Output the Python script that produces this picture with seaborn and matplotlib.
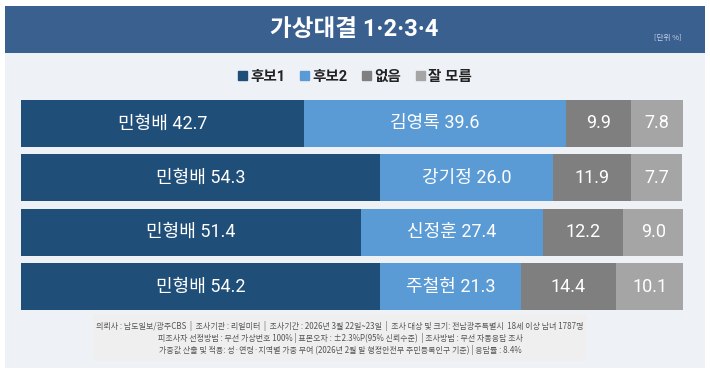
import matplotlib
matplotlib.use("Agg")
import matplotlib.pyplot as plt
import matplotlib.patches as mpatches
import seaborn as sns
import pandas as pd
import numpy as np

# ---- data ----
matchups = ["대결1", "대결2", "대결3", "대결4"]
cand1_names = ["민형배", "민형배", "민형배", "민형배"]
cand2_names = ["김영록", "강기정", "신정훈", "주철현"]
cand1_vals = [42.7, 54.3, 51.4, 54.2]
cand2_vals = [39.6, 26.0, 27.4, 21.3]
none_vals = [9.9, 11.9, 12.2, 14.4]
dunno_vals = [7.8, 7.7, 9.0, 10.1]
series_names = ["후보1", "후보2", "없음", "잘 모름"]
colors = ["#1f4e79", "#5b9bd5", "#7f7f7f", "#a5a5a5"]

title = "가상대결 1·2·3·4"
unit = "[단위 %]"
footnote = ("의뢰사 : 남도일보/광주CBS  |  조사기관 : 리얼미터  |  조사기간 : 2026년 3월 22일~23일  |  조사 대상 및 크기: 전남광주특별시  18세 이상 남녀 1787명\n"
            "피조사자 선정방법 : 무선 가상번호 100% | 표본오차 : ±2.3%P(95% 신뢰수준)  | 조사방법 : 무선 자동응답 조사\n"
            "가중값 산출 및 적용: 성·연령·지역별 가중 부여 (2026년 2월 말 행정안전부 주민등록인구 기준) | 응답률 : 8.4%")

sns.set_theme(style="white")
plt.rcParams['font.family'] = ['Noto Sans CJK KR', 'DejaVu Sans']
latin_kr = ['Roboto', 'Noto Sans CJK KR', 'DejaVu Sans']

W, H = 710, 376
fig = plt.figure(figsize=(W / 100, H / 100), dpi=100)
fig.patch.set_facecolor("white")

def px_rect(x0, y0, x1, y1, color, z=-10):
    r = mpatches.Rectangle((x0 / W, 1 - y1 / H), (x1 - x0) / W, (y1 - y0) / H,
                           transform=fig.transFigure, facecolor=color, edgecolor="none", zorder=z)
    fig.patches.append(r)

# background panel and header
px_rect(5, 53, 705, 368, "#eef2f7")
px_rect(5, 6, 705, 53, "#3a6090")
px_rect(93, 314, 587, 361, "#efefef")

fig.text(354 / W, 1 - 30 / H, title, color="white", fontsize=17, fontweight="bold",
         family=latin_kr, ha="center", va="center")
fig.text(668 / W, 1 - 38 / H, unit, color="#c8d4e4", fontsize=5.5, ha="center", va="center")
fig.text(340 / W, 1 - 338 / H, footnote, color="#555555", fontsize=5.75, ha="center", va="center",
         linespacing=1.2)

# ---- bars ----
df = pd.DataFrame({
    "matchup": matchups,
    "c1": cand1_vals, "c2": cand2_vals, "none": none_vals, "dunno": dunno_vals,
})
cols = ["c1", "c2", "none", "dunno"]
cum = df[cols].cumsum(axis=1)

ax = fig.add_axes([21 / W, 1 - 310 / H, 662 / W, 210 / H])
ax.set_facecolor("none")
ax.patch.set_alpha(0)
bw = 0.86
for i in reversed(range(4)):
    sns.barplot(x=cum[cols[i]], y=df["matchup"], color=colors[i], orient="h",
                width=bw, ax=ax, linewidth=0, saturation=1)

ax.set_xlim(0, 100)
ax.set_ylim(3 + bw / 2, -bw / 2)
ax.axis("off")

for r in range(4):
    starts = [0] + list(cum.iloc[r, :3])
    vals = [cand1_vals[r], cand2_vals[r], none_vals[r], dunno_vals[r]]
    labels = [f"{cand1_names[r]} {vals[0]:.1f}", f"{cand2_names[r]} {vals[1]:.1f}",
              f"{vals[2]:.1f}", f"{vals[3]:.1f}"]
    for k in range(4):
        ax.text(starts[k] + vals[k] / 2, r, labels[k], color="white", fontsize=13,
                family=latin_kr, ha="center", va="center")

handles = [mpatches.Patch(color=c, label=n) for c, n in zip(colors, series_names)]
leg = fig.legend(handles=handles, loc="center", bbox_to_anchor=(355 / W, 1 - 77 / H), ncol=4,
                 frameon=False, handlelength=0.6, handleheight=0.6, handletextpad=0.25,
                 columnspacing=1.0, prop={"size": 10.5, "weight": "bold", "family": latin_kr})
for t in leg.get_texts():
    t.set_color("#222222")

fig.savefig("out.png", dpi=100, facecolor=fig.get_facecolor())
